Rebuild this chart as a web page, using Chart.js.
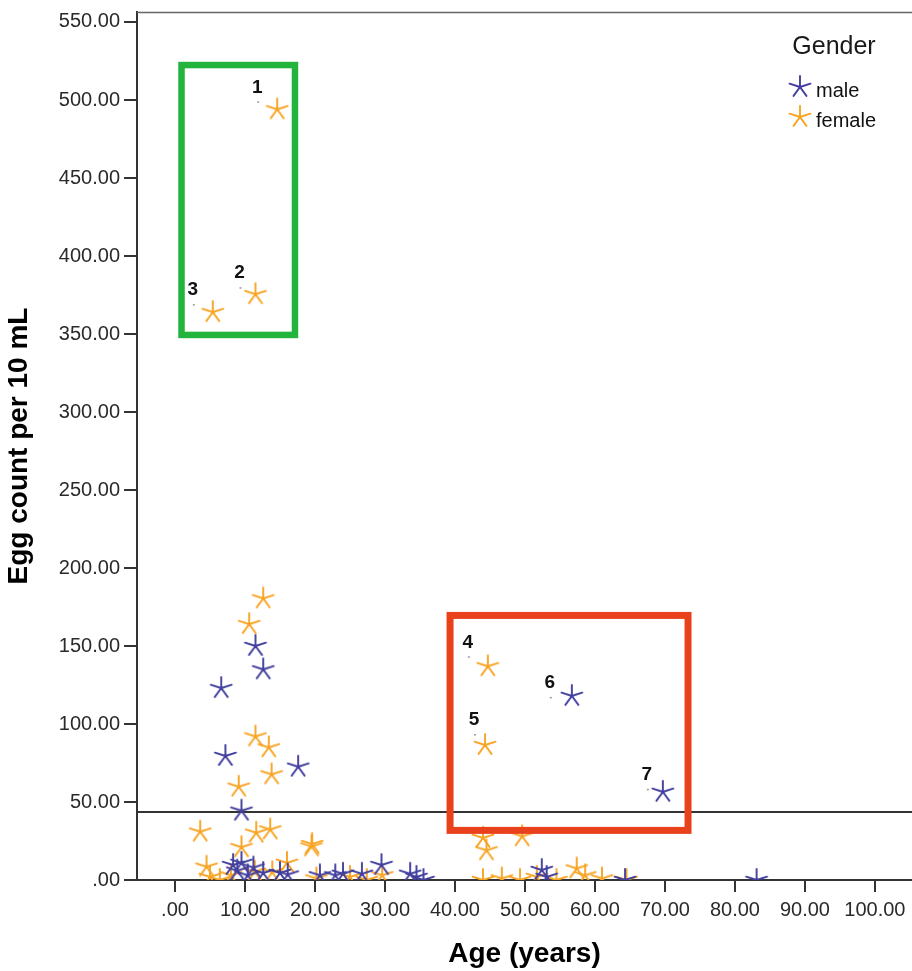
<!DOCTYPE html>
<html>
<head>
<meta charset="utf-8">
<script src="https://cdn.jsdelivr.net/npm/chart.js@4.4.0/dist/chart.umd.min.js"></script>
<style>
  html, body { margin: 0; padding: 0; background: #fff; overflow: hidden; }
  canvas { display: block; }
</style>
</head>
<body>
<canvas id="eggChart" width="912" height="971"></canvas>
<script>
// ---- data ----
const maleAge = [56.7, 69.7, 11.5, 12.6, 6.6, 7.2, 17.6, 9.5, 8.3, 9.5, 8.9, 12.6, 15.0, 16.1,
  20.7, 22.9, 24.0, 26.7, 29.5, 33.6, 34.5, 35.5, 52.4, 53.1, 64.3, 83.1, 10.4, 11.2];
const maleEgg = [118, 56.5, 150, 135, 123, 79.5, 72.6, 44.4, 9.6, 11, 6, 4.5, 4.5, 3.5,
  3, 3, 4, 4, 9.6, 4, 2, 0, 6.4, 2, 0, 0, 3, 8];

const femaleAge = [14.6, 11.5, 5.4, 44.7, 44.3, 12.6, 10.6, 11.5, 13.4, 13.8, 9.1, 3.6, 11.6, 13.6,
  19.5, 19.6, 9.5, 4.5, 16.0, 11.4, 13.9, 5.0, 6.4, 20.2, 25.0, 27.4, 44.0, 44.5, 49.6, 44.0,
  46.7, 49.3, 51.7, 54.5, 57.4, 58.6, 61.0, 64.5, 29.6, 8.0];
const femaleEgg = [494, 375.5, 364, 137, 86.5, 180.5, 164, 92, 85, 67.7, 59.8, 31, 30.3, 32.4,
  21.5, 23, 21, 8.5, 11, 5.3, 5, 2, 0, 1, 2, 0, 27, 19, 28, 0,
  1, 0, 2, 0, 7.4, 3, 1, 0, 3, 3];

const xTickValues = [0, 10, 20, 30, 40, 50, 60, 70, 80, 90, 100];
const yTickValues = [0, 50, 100, 150, 200, 250, 300, 350, 400, 450, 500, 550];
const cutoffEgg = 43.6;

// numbered cases: [dataset index, point index, text]
const caseLabels = [[1, 0, '1'], [1, 1, '2'], [1, 2, '3'], [1, 3, '4'], [1, 4, '5'], [0, 0, '6'], [0, 1, '7']];
// highlight boxes in data units: [ageFrom, ageTo, eggFrom, eggTo]
const greenBox = [0.93, 17.14, 349.4, 522.4];
const redBox = [39.3, 73.3, 31.8, 169.6];

// ---- styling ----
const FONT = "'Liberation Sans', Arial, sans-serif";
const MALE_COLOR = '#423f9e';
const FEMALE_COLOR = '#f8a423';
// pixel offsets of the case numbers from their point
const labelOffsets = [[-20, -22], [-16, -21], [-20, -22], [-20, -24], [-11, -25], [-22, -13], [-16, -17]];

function makeStar(color) {
  const c = document.createElement('canvas');
  c.width = 26; c.height = 26;
  const g = c.getContext('2d');
  g.strokeStyle = color;
  g.lineWidth = 1.9;
  g.lineCap = 'round';
  g.beginPath();
  for (let k = 0; k < 5; k++) {
    const ang = -Math.PI / 2 + k * 2 * Math.PI / 5;
    g.moveTo(13, 13);
    g.lineTo(13 + 11 * Math.cos(ang), 13 + 11 * Math.sin(ang));
  }
  g.stroke();
  g.fillStyle = color;
  g.beginPath();
  g.arc(13, 13, 1.6, 0, Math.PI * 2);
  g.fill();
  return c;
}

const maleStar = makeStar(MALE_COLOR);
const femaleStar = makeStar(FEMALE_COLOR);

function fmt(v) {
  return v === 0 ? '.00' : Number(v).toFixed(2);
}

function drawBox(ctx, x, y, box, color, width) {
  const l = x.getPixelForValue(box[0]), r = x.getPixelForValue(box[1]);
  const b = y.getPixelForValue(box[2]), t = y.getPixelForValue(box[3]);
  ctx.strokeStyle = color;
  ctx.lineWidth = width;
  ctx.strokeRect(l, t, r - l, b - t);
}

const decorPlugin = {
  id: 'decor',
  beforeDatasetsDraw(chart) {
    const { ctx, chartArea: a, scales: { x, y } } = chart;
    ctx.save();
    // top frame
    ctx.strokeStyle = '#666';
    ctx.lineWidth = 1.5;
    ctx.beginPath();
    ctx.moveTo(a.left, a.top + 0.5);
    ctx.lineTo(a.right, a.top + 0.5);
    ctx.stroke();
    // reference line
    const yc = y.getPixelForValue(cutoffEgg);
    ctx.strokeStyle = '#333';
    ctx.lineWidth = 2;
    ctx.beginPath();
    ctx.moveTo(a.left, yc);
    ctx.lineTo(a.right, yc);
    ctx.stroke();
    ctx.restore();
  },
  afterDatasetsDraw(chart) {
    const { ctx, scales: { x, y } } = chart;
    ctx.save();
    drawBox(ctx, x, y, greenBox, '#22b43c', 6.5);
    drawBox(ctx, x, y, redBox, '#e8411b', 7);

    // case numbers
    ctx.font = 'bold 19px ' + FONT;
    ctx.textAlign = 'center';
    ctx.textBaseline = 'middle';
    caseLabels.forEach(([ds, idx, txt], i) => {
      const pt = chart.getDatasetMeta(ds).data[idx];
      const [dx, dy] = labelOffsets[i];
      ctx.fillStyle = '#111';
      ctx.fillText(txt, pt.x + dx, pt.y + dy);
      ctx.fillStyle = '#9a9a9a';
      ctx.fillRect(pt.x + dx, pt.y + dy + 14, 2, 1.5);
    });

    // legend
    ctx.fillStyle = '#fff';
    ctx.fillRect(785, 26, 105, 118);
    ctx.fillStyle = '#1a1a1a';
    ctx.textAlign = 'center';
    ctx.font = '25px ' + FONT;
    ctx.fillText('Gender', 834, 47);
    ctx.textAlign = 'left';
    ctx.font = '20px ' + FONT;
    chart.data.datasets.forEach((d, i) => {
      const yy = 87 + i * 30;
      ctx.drawImage(d.pointStyle, 800 - 13, yy - 13);
      ctx.fillStyle = '#111';
      ctx.fillText(d.label, 816, yy + 4);
    });
    ctx.restore();
  }
};

new Chart(document.getElementById('eggChart'), {
  type: 'scatter',
  data: {
    datasets: [
      {
        label: 'male',
        data: maleAge.map((a, i) => ({ x: a, y: maleEgg[i] })),
        pointStyle: maleStar,
        pointRadius: 11,
        pointHoverRadius: 11
      },
      {
        label: 'female',
        data: femaleAge.map((a, i) => ({ x: a, y: femaleEgg[i] })),
        pointStyle: femaleStar,
        pointRadius: 11,
        pointHoverRadius: 11
      }
    ]
  },
  options: {
    responsive: false,
    animation: false,
    layout: { autoPadding: false, padding: { top: 12, right: 0, left: 0, bottom: 0 } },
    plugins: {
      legend: { display: false },
      tooltip: { enabled: false }
    },
    scales: {
      x: {
        type: 'linear',
        min: -5.43,
        max: 105.3,
        afterBuildTicks: s => { s.ticks = xTickValues.map(v => ({ value: v })); },
        afterFit: s => { s.height = 91; s.paddingLeft = 0; s.paddingRight = 0; },
        grid: { drawOnChartArea: false, drawTicks: true, tickLength: 12, color: '#333', lineWidth: 2 },
        border: { display: true, color: '#333', width: 2 },
        ticks: { callback: fmt, font: { family: FONT, size: 20 }, color: '#2a2a2a', padding: 6, maxRotation: 0, autoSkip: false },
        title: { display: true, text: 'Age (years)', font: { family: FONT, size: 28, weight: 'bold' }, color: '#000', padding: { top: 0, bottom: 0 } }
      },
      y: {
        type: 'linear',
        min: 0,
        max: 556.4,
        afterBuildTicks: s => { s.ticks = yTickValues.map(v => ({ value: v })); },
        afterFit: s => { s.width = 137; s.paddingTop = 0; s.paddingBottom = 0; },
        grid: { drawOnChartArea: false, drawTicks: true, tickLength: 13, color: '#333', lineWidth: 2 },
        border: { display: true, color: '#333', width: 2 },
        ticks: { callback: fmt, font: { family: FONT, size: 20 }, color: '#2a2a2a', padding: 4, autoSkip: false },
        title: { display: true, text: 'Egg count per 10 mL', font: { family: FONT, size: 28, weight: 'bold' }, color: '#000', padding: { top: 2, bottom: 0 } }
      }
    }
  },
  plugins: [decorPlugin]
});
</script>
</body>
</html>
